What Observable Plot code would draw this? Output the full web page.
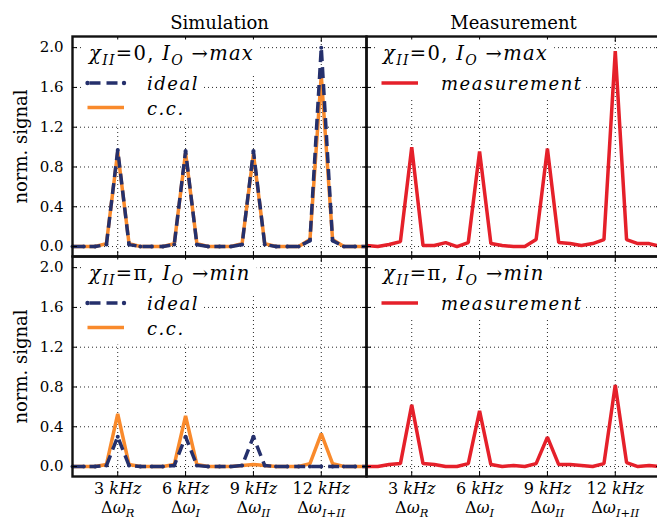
<!DOCTYPE html>
<html>
<head>
<meta charset="utf-8">
<script src="https://cdn.jsdelivr.net/npm/d3@7"></script>
<script src="https://cdn.jsdelivr.net/npm/@observablehq/plot@0.6"></script>
<style>
  html, body { margin: 0; padding: 0; background: #fff; overflow: hidden; }
  svg { max-width: none !important; }
</style>
</head>
<body>
<div id="chart"></div>
<script>
// ---------- data ----------
const freqs    = [1, 1.5, 2, 2.5, 3, 3.5, 4, 4.5, 5, 5.5, 6, 6.5, 7, 7.5, 8, 8.5, 9, 9.5, 10, 10.5, 11, 11.5, 12, 12.5, 13, 13.5, 14];
const idealMax = [0, 0, 0, 0.02, 0.97, 0.02, 0, 0, 0, 0.02, 0.96, 0.02, 0, 0, 0, 0.02, 0.96, 0.02, 0, 0, 0, 0.06, 2.0, 0.06, 0, 0, 0];
const ccMax    = [0, 0, 0, 0.03, 0.95, 0.03, 0, 0, 0, 0.03, 0.94, 0.03, 0, 0, 0, 0.03, 0.93, 0.03, 0, 0, 0, 0.07, 1.72, 0.07, 0, 0, 0];
const measMax  = [0.01, 0, 0.02, 0.05, 1.0, 0.01, 0.01, 0.04, 0, 0.04, 0.955, 0.03, 0.01, 0, 0, 0.07, 0.985, 0.04, 0.03, 0.01, 0.03, 0.07, 1.965, 0.07, 0.03, 0.03, 0];
const idealMin = [0, 0, 0, 0.01, 0.3, 0.01, 0, 0, 0, 0.01, 0.3, 0.01, 0, 0, 0, 0.01, 0.3, 0.01, 0, 0, 0, 0, 0, 0, 0, 0, 0];
const ccMin    = [0, 0, 0, 0.02, 0.53, 0.02, 0, 0, 0, 0.02, 0.51, 0.02, 0, 0, 0, 0.01, 0.02, 0.01, 0, 0, 0, 0.03, 0.33, 0.03, 0, 0, 0];
const measMin  = [0, 0, 0.02, 0.03, 0.62, 0.03, 0.02, 0, 0, 0.03, 0.56, 0.02, 0, 0.01, 0, 0.03, 0.296, 0.02, 0.02, 0.01, 0, 0.03, 0.82, 0.04, 0, 0.01, 0];

const columns    = ["Simulation", "Measurement"];
const rows       = ["max", "min"];
const rowTitles  = ["*χ*_{*II*}=0, *I*_{*O*} →*max*", "*χ*_{*II*}=π, *I*_{*O*} →*min*"];
const simLegend  = ["*ideal*", "*c.c.*"];
const simKinds   = ["ideal", "cc"];
const measLegend = ["*measurement*"];
const measKinds  = ["meas"];
const yLabel     = "norm. signal";
const yTicks     = [0, 0.4, 0.8, 1.2, 1.6, 2.0];
const xTicks     = [3, 6, 9, 12];
const xTickFreq  = ["3 *kHz*", "6 *kHz*", "9 *kHz*", "12 *kHz*"];
const xTickName  = ["Δ*ω*_{*R*}", "Δ*ω*_{*I*}", "Δ*ω*_{*II*}", "Δ*ω*_{*I*+*II*}"];

// ---------- styles ----------
const NAVY = "#25306c", ORANGE = "#f98a2c", RED = "#e5202a";
const FONT = "'DejaVu Serif', serif";
const W = 660, H = 524, ML = 71, MR = 0, MT = 35, MB = 48;

// ---------- tidy tables built from the arrays ----------
const series = (vals, col, row) => vals.map((v, i) => ({x: freqs[i], y: v, col, row}));
const idealData = [...series(idealMax, "Simulation", "max"), ...series(idealMin, "Simulation", "min")];
const ccData    = [...series(ccMax, "Simulation", "max"), ...series(ccMin, "Simulation", "min")];
const measData  = [...series(measMax, "Measurement", "max"), ...series(measMin, "Measurement", "min")];
const yLabelData = rows.map(r => ({col: "Simulation", row: r, text: yLabel}));

const lineOpts = {x: "x", y: "y", fx: "col", fy: "row", strokeWidth: 3.5, strokeLinejoin: "miter", strokeLinecap: "butt"};
const gridOpts = {stroke: "#000", strokeOpacity: 0.85, strokeWidth: 1, strokeDasharray: "1,3"};

const plot = Plot.plot({
  width: W,
  height: H,
  marginTop: MT,
  marginBottom: MB,
  marginLeft: ML,
  marginRight: MR,
  style: {fontFamily: FONT, fontSize: "15px", background: "white", color: "black"},
  fx: {domain: columns, padding: 0},
  fy: {domain: rows, padding: 0, axis: null},
  x: {domain: [1, 14]},
  y: {domain: [-0.1, 2.112]},
  marks: [
    Plot.gridY(yTicks, gridOpts),
    Plot.gridX(xTicks, gridOpts),
    Plot.line(ccData, {...lineOpts, stroke: ORANGE}),
    Plot.line(idealData, {...lineOpts, stroke: NAVY, strokeDasharray: "11,6"}),
    Plot.dot(idealData, {x: "x", y: "y", fx: "col", fy: "row", r: 2, fill: NAVY, stroke: null}),
    Plot.line(measData, {...lineOpts, stroke: RED}),
    Plot.frame({stroke: "#111", strokeWidth: 2.4}),
    Plot.axisY(yTicks, {anchor: "left", facetAnchor: null, tickSize: -5, tickFormat: () => "", label: null}),
    Plot.axisY(yTicks, {anchor: "right", facetAnchor: null, tickSize: -5, tickFormat: () => "", label: null}),
    Plot.axisX(xTicks, {anchor: "bottom", facetAnchor: null, tickSize: -5, tickFormat: () => "", label: null}),
    Plot.axisX(xTicks, {anchor: "top", facetAnchor: null, tickSize: -5, tickFormat: () => "", label: null}),
    Plot.axisY(yTicks, {anchor: "left", tickSize: 0, tickPadding: 9, tickFormat: d3.format(".1f"), fontSize: 15, label: null}),
    Plot.axisX(xTicks, {anchor: "bottom", tickSize: 0, tickPadding: 4, fontSize: 16, lineHeight: 1.2, label: null,
      tickFormat: d => { const i = xTicks.indexOf(d); return xTickFreq[i] + "\n" + xTickName[i]; }}),
    Plot.axisFx({anchor: "top", tickSize: 0, tickPadding: 8, fontSize: 18, label: null}),
    Plot.text(yLabelData, {fx: "col", fy: "row", text: "text", frameAnchor: "left", textAnchor: "middle", rotate: -90, dx: -51, fontSize: 18})
  ]
});

document.getElementById("chart").appendChild(plot);

// ---------- rich text (italics + subscripts) ----------
const NS = "http://www.w3.org/2000/svg";
function rich(node, s) {
  node.textContent = "";
  let italic = false, sub = false, buf = "";
  const flush = () => {
    if (!buf) return;
    const t = document.createElementNS(NS, "tspan");
    t.textContent = buf;
    if (italic) t.setAttribute("font-style", "italic");
    if (sub) { t.setAttribute("font-size", "72%"); t.setAttribute("baseline-shift", "-0.35em"); }
    node.appendChild(t);
    buf = "";
  };
  for (let i = 0; i < s.length; i++) {
    const c = s[i];
    if (c === "*") { flush(); italic = !italic; }
    else if (c === "_" && s[i + 1] === "{") { flush(); sub = true; i++; }
    else if (c === "}" && sub) { flush(); sub = false; }
    else buf += c;
  }
  flush();
}
plot.querySelectorAll("text").forEach(t => {
  const spans = t.querySelectorAll("tspan");
  const leaves = spans.length ? Array.from(spans) : [t];
  leaves.forEach(n => { const s = n.textContent; if (/[*]|_\{/.test(s)) rich(n, s); });
});

// ---------- facet geometry from Plot's own facet scales ----------
let fxS = null, fyS = null;
try { fxS = plot.scale("fx"); fyS = plot.scale("fy"); } catch (e) {}
const fallbackX = d3.scaleBand(columns, [ML, W - MR]);
const fallbackY = d3.scaleBand(rows, [MT, H - MB]);
const facetX = c => (fxS && fxS.apply) ? fxS.apply(c) : fallbackX(c);
const facetY = r => (fyS && fyS.apply) ? fyS.apply(r) : fallbackY(r);

const layer = d3.select(plot).append("g").attr("font-family", FONT).attr("fill", "black").attr("text-anchor", "start");
const bg = layer.append("g");
const fg = layer.append("g");

columns.forEach((col, ci) => rows.forEach((row, ri) => {
  const f = {x: facetX(col), y: facetY(row)};
  const isSim = col === "Simulation";
  const labels = isSim ? simLegend : measLegend;
  const kinds = isSim ? simKinds : measKinds;

  const title = fg.append("text").attr("x", f.x + 17).attr("y", f.y + 24)
    .attr("font-size", 19.5).attr("letter-spacing", 1.3).node();
  rich(title, rowTitles[ri]);

  let maxRight = 0, lastBase = 0;
  labels.forEach((lab, k) => {
    const base = f.y + 54 + 24.5 * k;
    lastBase = base;
    const tn = fg.append("text").attr("x", f.x + 75).attr("y", base)
      .attr("font-size", 18).attr("letter-spacing", 1.5).node();
    rich(tn, lab);
    const bb = tn.getBBox();
    maxRight = Math.max(maxRight, bb.x + bb.width);
    const ys0 = base - 7;
    const x0 = f.x + 15.5, x1 = f.x + 52;
    const kind = kinds[k];
    const color = kind === "ideal" ? NAVY : kind === "cc" ? ORANGE : RED;
    const ln = fg.append("line").attr("x1", x0).attr("x2", x1).attr("y1", ys0).attr("y2", ys0)
      .attr("stroke", color).attr("stroke-width", 3.5);
    if (kind === "ideal") {
      ln.attr("stroke-dasharray", "11,6").attr("stroke-dashoffset", -2);
      fg.append("circle").attr("cx", x0).attr("cy", ys0).attr("r", 2.2).attr("fill", NAVY);
      fg.append("circle").attr("cx", x1).attr("cy", ys0).attr("r", 2.2).attr("fill", NAVY);
    }
  });

  const tb = title.getBBox();
  const boxL = f.x + 10, boxT = f.y + 3.5, titleBottom = f.y + 40;
  bg.append("rect").attr("x", boxL).attr("y", boxT).attr("width", tb.x + tb.width + 6 - boxL)
    .attr("height", titleBottom - boxT).attr("fill", "white");
  bg.append("rect").attr("x", boxL).attr("y", titleBottom - 0.5).attr("width", maxRight + 3 - boxL)
    .attr("height", lastBase + 10 - titleBottom + 0.5).attr("fill", "white");
}));
</script>
</body>
</html>
